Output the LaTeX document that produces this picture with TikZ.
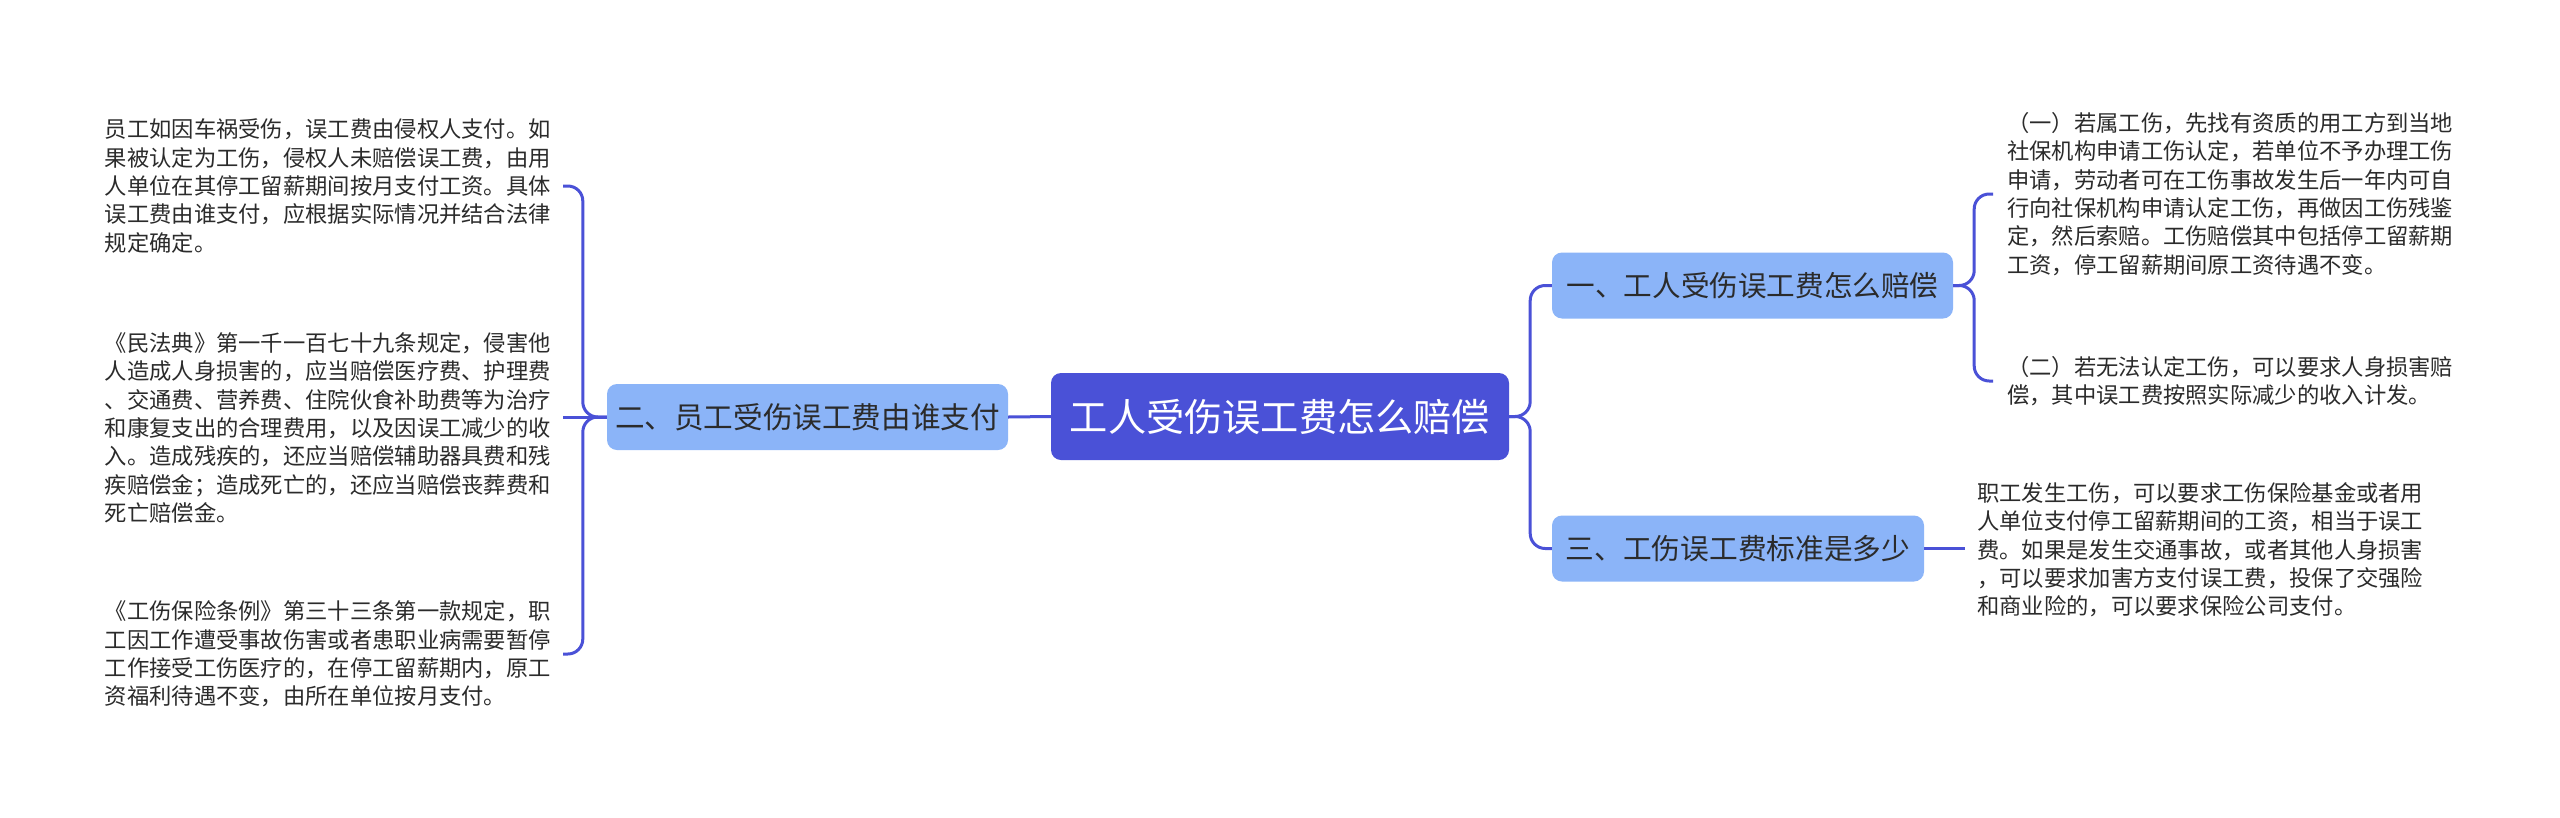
\documentclass[tikz,border=0pt]{standalone}
\usepackage{fontspec}
\setmainfont{Noto Sans CJK SC}
\definecolor{rootc}{HTML}{4A51D7}
\definecolor{branchc}{HTML}{8BB4F8}
\definecolor{linec}{HTML}{4A51D7}
\definecolor{leaftext}{HTML}{2B2B2B}
\begin{document}
\begin{tikzpicture}[x=1pt,y=-1pt,
  rootbox/.style={fill=rootc, rounded corners=10pt, text=white, font=\fontsize{38.2pt}{44pt}\selectfont, minimum width=458pt, minimum height=87pt, inner sep=0pt},
  branchbox/.style={fill=branchc, rounded corners=10pt, text=leaftext, minimum height=66pt, inner sep=0pt},
  leaf/.style={align=left, text=leaftext, font=\fontsize{22.3pt}{28.3pt}\selectfont, inner ysep=0pt},
  conn/.style={draw=linec, line width=3pt, rounded corners=15pt}]
\useasboundingbox[fill=white] (0,0) rectangle (2560,817);

\node[rootbox] (root) at (1280,416.5) {工人受伤误工费怎么赔偿};
\node[branchbox, font=\fontsize{29.6pt}{36pt}\selectfont, minimum width=401pt] (b2) at (807.5,417) {二、员工受伤误工费由谁支付};
\node[branchbox, font=\fontsize{28.6pt}{34pt}\selectfont, minimum width=401pt] (b1) at (1752.5,285.5) {一、工人受伤误工费怎么赔偿};
\node[branchbox, font=\fontsize{28.7pt}{34pt}\selectfont, minimum width=372pt] (b3) at (1738,548.5) {三、工伤误工费标准是多少};

\node[leaf, inner xsep=12pt, anchor=east] (l1) at (563,186) {%
员工如因车祸受伤，误工费由侵权人支付。如\\%
果被认定为工伤，侵权人未赔偿误工费，由用\\%
人单位在其停工留薪期间按月支付工资。具体\\%
误工费由谁支付，应根据实际情况并结合法律\\%
规定确定。};
\node[leaf, inner xsep=12pt, anchor=east] (l2) at (563,428) {%
《民法典》第一千一百七十九条规定，侵害他\\%
人造成人身损害的，应当赔偿医疗费、护理费\\%
、交通费、营养费、住院伙食补助费等为治疗\\%
和康复支出的合理费用，以及因误工减少的收\\%
入。造成残疾的，还应当赔偿辅助器具费和残\\%
疾赔偿金；造成死亡的，还应当赔偿丧葬费和\\%
死亡赔偿金。};
\node[leaf, inner xsep=12pt, anchor=east] (l3) at (563,654) {%
《工伤保险条例》第三十三条第一款规定，职\\%
工因工作遭受事故伤害或者患职业病需要暂停\\%
工作接受工伤医疗的，在停工留薪期内，原工\\%
资福利待遇不变，由所在单位按月支付。};

\node[leaf, inner xsep=14pt, anchor=west] (t1) at (1993,194) {%
（一）若属工伤，先找有资质的用工方到当地\\%
社保机构申请工伤认定，若单位不予办理工伤\\%
申请，劳动者可在工伤事故发生后一年内可自\\%
行向社保机构申请认定工伤，再做因工伤残鉴\\%
定，然后索赔。工伤赔偿其中包括停工留薪期\\%
工资，停工留薪期间原工资待遇不变。};
\node[leaf, inner xsep=14pt, anchor=west] (t2) at (1993,381) {%
（二）若无法认定工伤，可以要求人身损害赔\\%
偿，其中误工费按照实际减少的收入计发。};
\node[leaf, inner xsep=12pt, anchor=west] (t3) at (1965,550) {%
职工发生工伤，可以要求工伤保险基金或者用\\%
人单位支付停工留薪期间的工资，相当于误工\\%
费。如果是发生交通事故，或者其他人身损害\\%
，可以要求加害方支付误工费，投保了交强险\\%
和商业险的，可以要求保险公司支付。};

\draw[conn] (root.west) -- (b2.east);
\draw[conn] (root.east) -- ++(21,0) |- (b1.west);
\draw[conn] (root.east) -- ++(21,0) |- (b3.west);
\draw[conn] (b1.east) -- ++(21,0) |- (t1.west);
\draw[conn] (b1.east) -- ++(21,0) |- (t2.west);
\draw[conn] (b3.east) -- (b3.east -| t3.west);
\draw[conn] (b2.west) -- ++(-24,0) |- (l1.east);
\draw[conn] (b2.west) -- (b2.west -| l2.east);
\draw[conn] (b2.west) -- ++(-24,0) |- (l3.east);
\end{tikzpicture}
\end{document}
